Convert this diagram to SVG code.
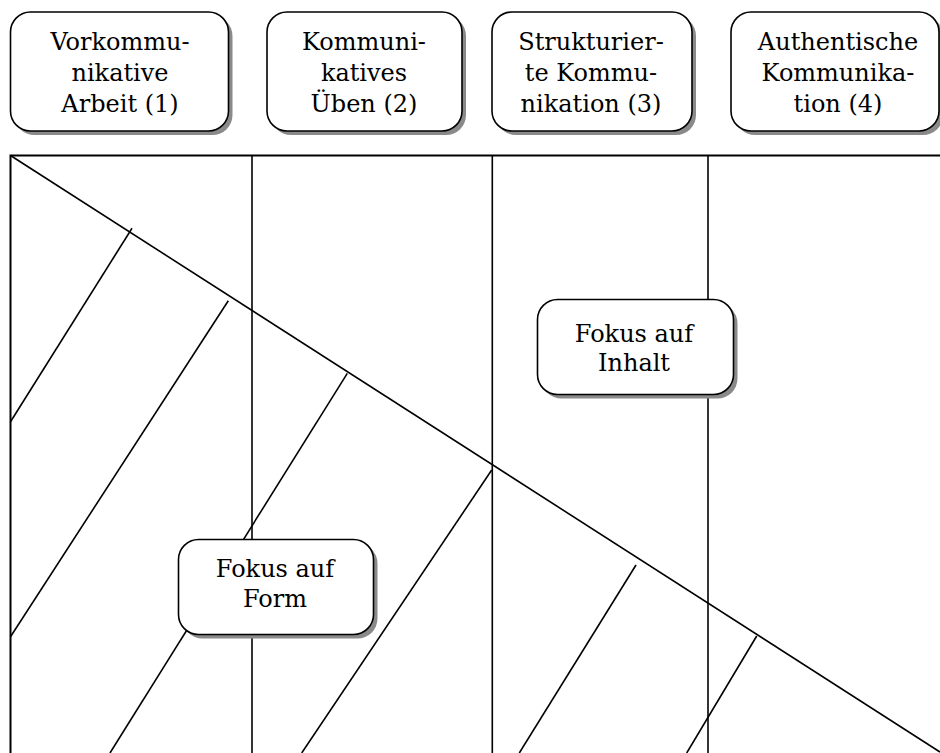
<svg xmlns="http://www.w3.org/2000/svg" width="940" height="753" viewBox="0 0 940 753">
  <style>
    .ln { stroke: #000; stroke-width: 1.6; fill: none; }
    .frame { stroke: #000; stroke-width: 2; fill: none; }
    .shadow { fill: #8a8a8a; stroke: none; }
    .box { fill: #fff; stroke: #000; stroke-width: 1.6; }
    .lbl { font-family: "DejaVu Serif", "Liberation Serif", serif; font-size: 24px; fill: #000; text-anchor: middle; }
  </style>
  <rect x="0" y="0" width="940" height="753" fill="#fff"/>

  <!-- frame, column dividers, diagonal and hatching -->
  <g id="connectors">
    <polyline class="frame" points="10.5,760 10.5,155.5 945,155.5"/>
    <line class="ln" x1="252" y1="155.5" x2="252" y2="760"/>
    <line class="ln" x1="492.3" y1="155.5" x2="492.3" y2="760"/>
    <line class="ln" x1="708" y1="155.5" x2="708" y2="760"/>
    <line class="ln" x1="10.5" y1="155.5" x2="940" y2="752"/>
    <line class="ln" x1="132" y1="228.3" x2="10.5" y2="421.7"/>
    <line class="ln" x1="228.3" y1="300.7" x2="10.5" y2="636.7"/>
    <line class="ln" x1="347.3" y1="373.3" x2="110" y2="753"/>
    <line class="ln" x1="491.7" y1="470" x2="301.7" y2="753"/>
    <line class="ln" x1="636" y1="565" x2="519.3" y2="753"/>
    <line class="ln" x1="756.7" y1="636" x2="686.7" y2="753"/>
  </g>

  <!-- phase headers -->
  <g id="phase1">
    <rect class="shadow" x="14.5" y="16" width="218" height="119" rx="20"/>
    <rect class="box" x="10.5" y="12" width="218" height="119" rx="20"/>
    <text class="lbl" x="120" y="50">Vorkommu-</text>
    <text class="lbl" x="120" y="81">nikative</text>
    <text class="lbl" x="120" y="112">Arbeit (1)</text>
  </g>
  <g id="phase2">
    <rect class="shadow" x="271" y="16" width="195" height="119" rx="20"/>
    <rect class="box" x="267" y="12" width="195" height="119" rx="20"/>
    <text class="lbl" x="364" y="50">Kommuni-</text>
    <text class="lbl" x="364" y="81">katives</text>
    <text class="lbl" x="364" y="112">Üben (2)</text>
  </g>
  <g id="phase3">
    <rect class="shadow" x="496" y="16" width="200" height="119" rx="20"/>
    <rect class="box" x="492" y="12" width="200" height="119" rx="20"/>
    <text class="lbl" x="591" y="50">Strukturier-</text>
    <text class="lbl" x="591" y="81">te Kommu-</text>
    <text class="lbl" x="591" y="112">nikation (3)</text>
  </g>
  <g id="phase4">
    <rect class="shadow" x="735" y="16" width="208" height="119" rx="20"/>
    <rect class="box" x="731" y="12" width="208" height="119" rx="20"/>
    <text class="lbl" x="838" y="50">Authentische</text>
    <text class="lbl" x="838" y="81">Kommunika-</text>
    <text class="lbl" x="838" y="112">tion (4)</text>
  </g>

  <!-- focus labels -->
  <g id="focus-content">
    <rect class="shadow" x="541.5" y="303.5" width="196" height="95" rx="20"/>
    <rect class="box" x="537.5" y="299.5" width="196" height="95" rx="20"/>
    <text class="lbl" x="634" y="342">Fokus auf</text>
    <text class="lbl" x="634" y="371">Inhalt</text>
  </g>
  <g id="focus-form">
    <rect class="shadow" x="182.5" y="543.5" width="195" height="95" rx="20"/>
    <rect class="box" x="178.5" y="539.5" width="195" height="95" rx="20"/>
    <text class="lbl" x="275" y="577">Fokus auf</text>
    <text class="lbl" x="275" y="607">Form</text>
  </g>
</svg>
